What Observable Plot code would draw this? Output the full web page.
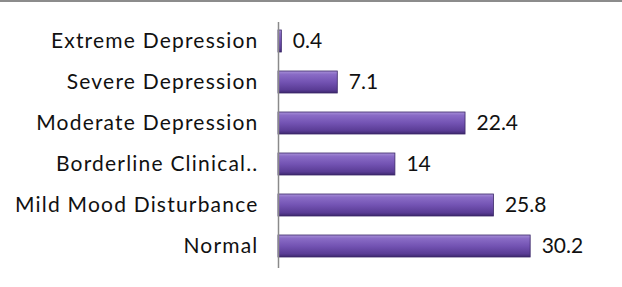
<!DOCTYPE html>
<html>
<head>
<meta charset="utf-8">
<script src="https://cdn.jsdelivr.net/npm/d3@7"></script>
<script src="https://cdn.jsdelivr.net/npm/@observablehq/plot@0.6"></script>
<style>
  html, body { margin: 0; padding: 0; background: #fff; }
  #wrap { position: relative; width: 622px; height: 287px; overflow: hidden; }
  #topline { position: absolute; left: 0; top: 0; width: 622px; height: 2px; background: #8c8c8c; }
</style>
</head>
<body>
<div id="wrap"><div id="topline"></div></div>
<script>
const categories = ["Extreme Depression", "Severe Depression", "Moderate Depression", "Borderline Clinical..", "Mild Mood Disturbance", "Normal"];
const values = [0.4, 7.1, 22.4, 14, 25.8, 30.2];
const labels = ["0.4", "7.1", "22.4", "14", "25.8", "30.2"];

const data = categories.map((c, i) => ({category: c, value: values[i], label: labels[i]}));

const chart = Plot.plot({
  width: 622,
  height: 287,
  marginLeft: 278,
  marginRight: 10,
  marginTop: 11,
  marginBottom: 10,
  style: {fontFamily: "Lato, sans-serif", fontSize: "21px", color: "#111", background: "transparent"},
  x: {domain: [0, 40], axis: null},
  y: {domain: categories, padding: 0.46, label: null, tickSize: 0, tickPadding: 20},
  marks: [
    Plot.barX(data, {x: "value", y: "category", fill: "url(#barGrad)", stroke: "#3b2768", strokeWidth: 0.8, style: "filter: drop-shadow(2px 2px 1.5px rgba(0,0,0,0.35))"}),
    Plot.ruleX([0], {stroke: "#8a8a8a", strokeWidth: 1.5, insetTop: 11, insetBottom: 9}),
    Plot.text(data, {x: "value", y: "category", text: "label", textAnchor: "start", dx: 11, fill: "#111", fontSize: 21})
  ]
});

const svg = d3.select(chart);
const defs = svg.insert("defs", ":first-child");
const g = defs.append("linearGradient").attr("id", "barGrad").attr("x1", 0).attr("y1", 0).attr("x2", 0).attr("y2", 1);
g.append("stop").attr("offset", "0%").attr("stop-color", "#a891d8");
g.append("stop").attr("offset", "15%").attr("stop-color", "#8a6cc6");
g.append("stop").attr("offset", "50%").attr("stop-color", "#7353b3");
g.append("stop").attr("offset", "85%").attr("stop-color", "#5a3c95");
g.append("stop").attr("offset", "100%").attr("stop-color", "#3d286e");
svg.selectAll("g[aria-label='y-axis tick label'] text").attr("fill", "#111").style("letter-spacing", "1.2px");

document.getElementById("wrap").prepend(chart);
</script>
</body>
</html>
